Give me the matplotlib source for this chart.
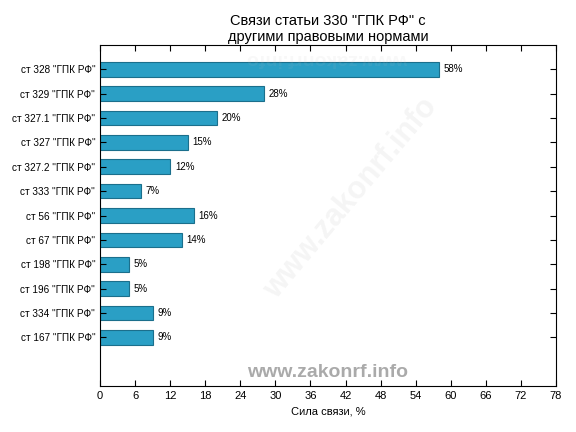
import matplotlib
matplotlib.use("Agg")
import matplotlib.pyplot as plt

plt.rcParams['font.family'] = ['Liberation Sans', 'DejaVu Sans']

categories = ['ст 328 "ГПК РФ"', 'ст 329 "ГПК РФ"', 'ст 327.1 "ГПК РФ"', 'ст 327 "ГПК РФ"',
              'ст 327.2 "ГПК РФ"', 'ст 333 "ГПК РФ"', 'ст 56 "ГПК РФ"', 'ст 67 "ГПК РФ"',
              'ст 198 "ГПК РФ"', 'ст 196 "ГПК РФ"', 'ст 334 "ГПК РФ"', 'ст 167 "ГПК РФ"']
values = [58, 28, 20, 15, 12, 7, 16, 14, 5, 5, 9, 9]
xticks = list(range(0, 79, 6))

fig = plt.figure(figsize=(5.76, 4.32), dpi=100)
ax = fig.add_axes([0.1736, 0.1065, 0.7917, 0.7893])
pos = list(range(len(categories)))
ax.barh(pos, values, height=0.6, color='#2a9fc5', edgecolor='#1b6f8c', linewidth=0.8)
for p, v in zip(pos, values):
    ax.text(v + 0.8, p, f'{v}%', va='center', ha='left', fontsize=7)
ax.set_ylim(13, -1)
ax.set_xlim(0, 78)
ax.set_xticks(xticks)
ax.set_yticks(pos)
ax.set_yticklabels(categories, fontsize=7.2)
ax.tick_params(axis='x', labelsize=8, direction='in', top=True, length=4)
ax.tick_params(axis='y', direction='in', right=True, length=4)
ax.set_xlabel('Сила связи, %', fontsize=8)
ax.set_title('Связи статьи 330 "ГПК РФ" с\nдругими правовыми нормами', fontsize=10.5, pad=3)
ax.text(0.5, 0.04, 'www.zakonrf.info', transform=ax.transAxes, ha='center', va='center',
        fontsize=14, fontweight='bold', color='#aaaaaa')
ax.text(0.55, 0.55, 'www.zakonrf.info', transform=ax.transAxes, ha='center', va='center',
        fontsize=22, fontweight='bold', color='#bbbbbb', alpha=0.15, rotation=50)
ax.text(0.5, 0.96, 'www.zakonrf.info', transform=ax.transAxes, ha='center', va='center',
        fontsize=14, fontweight='bold', color='#bbbbbb', alpha=0.1, rotation=180)
fig.savefig('out.png', dpi=100)
